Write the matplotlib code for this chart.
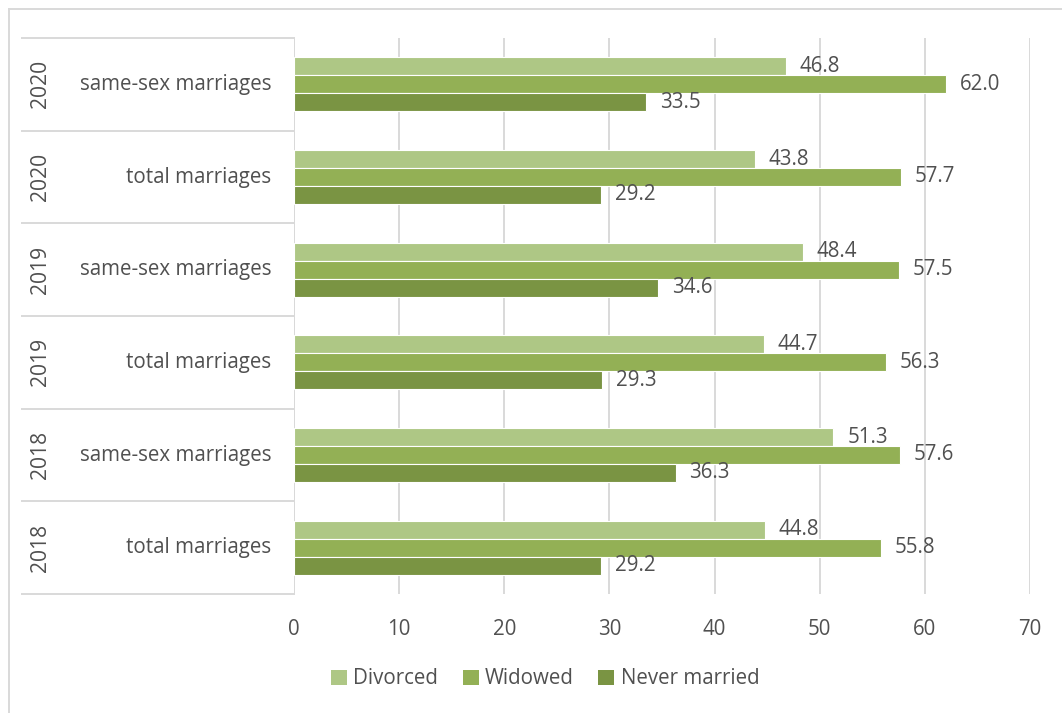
import matplotlib.pyplot as plt
import numpy as np
from matplotlib.lines import Line2D

plt.rcParams["font.family"] = ["Open Sans", "DejaVu Sans"]

# rows listed bottom to top
years = ["2018", "2018", "2019", "2019", "2020", "2020"]
groups = ["total marriages", "same-sex marriages"] * 3
divorced = [44.8, 51.3, 44.7, 48.4, 43.8, 46.8]
widowed = [55.8, 57.6, 56.3, 57.5, 57.7, 62.0]
never_married = [29.2, 36.3, 29.3, 34.6, 29.2, 33.5]

series = [
    ("Divorced", divorced, "#aec785"),
    ("Widowed", widowed, "#93b055"),
    ("Never married", never_married, "#7a9443"),
]

TEXT = "#505050"
GRID = "#d9d9d9"
FS = 14.8

W, H = 1062, 713
fig = plt.figure(figsize=(W / 100, H / 100), dpi=100)
ax = fig.add_axes([294 / W, (H - 594) / H, (1030 - 294) / W, (594 - 38) / H])

y = np.arange(len(groups))
bh = 0.194
for i, (name, vals, color) in enumerate(series):
    pos = y + (1 - i) * bh
    ax.barh(pos, vals, height=bh, color=color, edgecolor="white", linewidth=0.8,
            zorder=3)
    # plain square for the legend entry
    ax.barh([0], [0], height=0, color=color, linewidth=0, label=name)
    for p, v in zip(pos, vals):
        ax.annotate(f"{v:.1f}", (v, p), xytext=(10, 0), textcoords="offset points",
                    va="center", ha="left", fontsize=FS, color=TEXT)

ax.set_xlim(0, 70)
ax.set_ylim(-0.5, len(groups) - 0.5)
ax.set_xticks(np.arange(0, 71, 10))
ax.tick_params(axis="x", length=0, pad=18, labelsize=FS, labelcolor=TEXT)
ax.set_yticks([])
ax.grid(True, axis="x", color=GRID, linewidth=1.4, zorder=0)
for s in ax.spines.values():
    s.set_visible(False)
ax.axvline(0, color=GRID, linewidth=1.4, zorder=1)

# two-level category axis: separators, group names and rotated years
trans = ax.get_yaxis_transform()
x_left = -(294 - 22) / (1030 - 294)
for b in np.arange(len(groups) + 1) - 0.5:
    ax.plot([x_left, 0], [b, b], transform=trans, color=GRID, linewidth=1.4,
            clip_on=False)
for k, (yr, g) in enumerate(zip(years, groups)):
    ax.text(-(294 - 271) / 736, k, g, transform=trans, ha="right", va="center",
            fontsize=FS, color=TEXT)
    ax.text(-(294 - 40) / 736, k, yr, transform=trans, ha="center", va="center",
            rotation=90, fontsize=FS + 0.4, color=TEXT)

fig.legend(loc="center", bbox_to_anchor=(545 / W, (H - 679) / H), ncol=3,
           frameon=False, fontsize=FS, labelcolor=TEXT, handlelength=0.78,
           handleheight=0.78, handletextpad=0.3, columnspacing=1.2)

# chart frame
fig.add_artist(Line2D([9 / W, 1], [1 - 9 / H, 1 - 9 / H], color=GRID, linewidth=1.4))
fig.add_artist(Line2D([9 / W, 9 / W], [0, 1 - 9 / H], color=GRID, linewidth=1.4))

fig.savefig("out.png", dpi=100)
